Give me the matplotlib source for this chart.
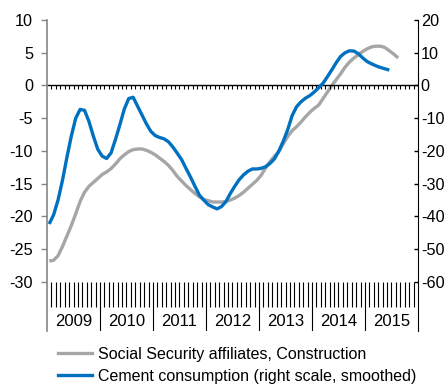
import numpy as np
import matplotlib
matplotlib.use("Agg")
import matplotlib.pyplot as plt
from matplotlib.lines import Line2D

plt.rcParams['font.family'] = ['Liberation Sans', 'DejaVu Sans']
plt.rcParams['axes.unicode_minus'] = False

# data: monthly, Jan 2009 onwards
years = ["2009", "2010", "2011", "2012", "2013", "2014", "2015"]

affiliates = [-26.8, -26.7, -26.0, -24.6, -23.0, -21.4, -19.6, -17.7, -16.3, -15.4,
              -14.8, -14.2, -13.6, -13.2, -12.7, -12.0, -11.2, -10.6, -10.1, -9.8,
              -9.7, -9.7, -9.9, -10.2, -10.6, -11.1, -11.6, -12.2, -13.0, -13.9,
              -14.6, -15.3, -15.9, -16.5, -17.0, -17.4, -17.6, -17.8, -17.8, -17.8,
              -17.7, -17.5, -17.2, -16.8, -16.3, -15.7, -15.1, -14.5, -13.7, -12.6,
              -11.6, -10.8, -10.1, -8.9, -7.8, -6.9, -6.3, -5.6, -4.8, -4.1,
              -3.5, -3.0, -2.0, -1.0, 0.0, 0.9, 1.8, 2.8, 3.6, 4.2,
              4.7, 5.2, 5.6, 5.9, 6.0, 6.0, 5.8, 5.3, 4.8, 4.2]

cement = [-42.3, -39.5, -35.0, -29.0, -22.0, -15.5, -10.0, -7.3, -7.6, -11.0,
          -15.5, -19.5, -21.6, -22.3, -20.6, -16.5, -12.0, -7.2, -4.0, -3.6,
          -6.3, -9.0, -11.7, -14.0, -15.3, -15.9, -16.3, -17.2, -18.8, -20.7,
          -22.7, -25.4, -28.0, -30.8, -33.5, -35.0, -36.4, -37.1, -37.7, -37.0,
          -35.5, -33.0, -30.8, -28.8, -27.3, -26.2, -25.5, -25.5, -25.3, -24.8,
          -23.8, -22.4, -20.0, -17.0, -13.5, -9.2, -6.5, -5.0, -3.9, -3.1,
          -2.0, -0.7, 0.7, 2.7, 4.8, 7.0, 8.9, 10.0, 10.6, 10.5,
          9.7, 8.4, 7.3, 6.6, 6.0, 5.5, 5.1, 4.7]

labels = ["Social Security affiliates, Construction",
          "Cement consumption (right scale, smoothed)"]

grey = "#A6A6A6"
blue = "#0070C0"
fs = 11.7

fig = plt.figure(figsize=(4.46, 3.84), dpi=100)
ax = fig.add_axes([47/446, 1 - 331/384, (418 - 47)/446, (331 - 20)/384])

n_months = 12 * len(years)
ymin = -37.5
ax.set_xlim(0, n_months)
ax.set_ylim(ymin, 10)

xa = np.arange(len(affiliates)) + 0.5
ax.plot(xa, affiliates, color=grey, lw=2.4, solid_capstyle='butt')

# zero line with small month ticks
ax.axhline(0, color='black', lw=1)
bounds = np.arange(1, n_months)
ax.vlines(bounds, -0.5, 0, color='black', lw=0.8)

# month ticks and year separators under the plot
month_b = [b for b in bounds if b % 12 != 0]
year_b = [b for b in bounds if b % 12 == 0]
ax.vlines(month_b, -33.8, -30, color='black', lw=0.8)
ax.vlines(year_b, ymin, -30, color='black', lw=0.8)
for i, yr in enumerate(years):
    ax.text(12 * i + 6, -36.1, yr, ha='center', va='center', fontsize=12)

ax.set_yticks(np.arange(-30, 11, 5))
ax.set_xticks([])
ax.tick_params(axis='y', direction='out', length=4, width=1, color='#868686',
               labelsize=fs, pad=6)
for s in ['top', 'bottom', 'right']:
    ax.spines[s].set_visible(False)
ax.spines['left'].set_color('#868686')
ax.spines['left'].set_linewidth(1.2)

ax2 = ax.twinx()
ax2.set_ylim(2 * ymin, 20)
xc = np.arange(len(cement)) + 0.5
ax2.plot(xc, cement, color=blue, lw=2.4, solid_capstyle='butt')
ax2.set_yticks(np.arange(-60, 21, 10))
ax2.tick_params(axis='y', direction='in', length=3, width=1, labelsize=fs, pad=2)
for s in ['top', 'bottom', 'left']:
    ax2.spines[s].set_visible(False)
ax2.spines['right'].set_color('black')

handles = [Line2D([], [], color=grey, lw=2.4), Line2D([], [], color=blue, lw=2.4)]
fig.legend(handles, labels, loc='upper left', bbox_to_anchor=(58/446, 1 - 347/384),
           frameon=False, fontsize=11.5, handlelength=2.1, handletextpad=0.4,
           labelspacing=0.42, borderpad=0, borderaxespad=0)

fig.savefig("out.png", dpi=100)
